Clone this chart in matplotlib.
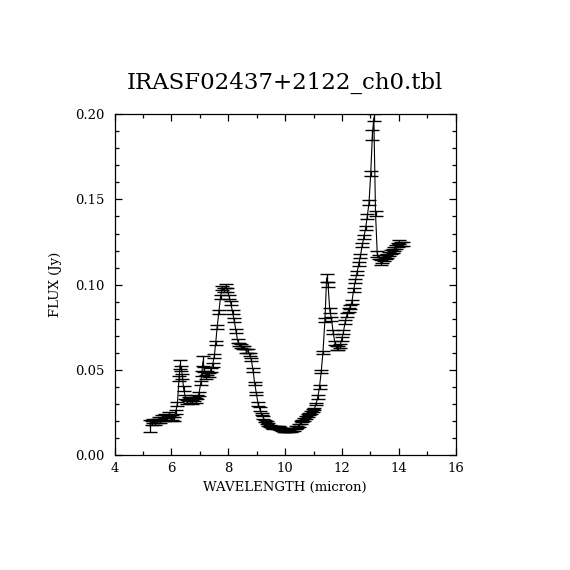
import matplotlib
matplotlib.use('Agg')
import matplotlib.pyplot as plt
from matplotlib.ticker import MultipleLocator

plt.rcParams['font.family'] = ['DejaVu Serif']

# espectro (micron, Jy)
wave = [5.25, 5.31, 5.37, 5.43, 5.49, 5.55, 5.61, 5.67, 5.73, 5.79, 5.85, 5.91,
        5.97, 6.03, 6.09, 6.15, 6.21, 6.27, 6.31, 6.35, 6.39, 6.43, 6.49, 6.55,
        6.61, 6.67, 6.73, 6.79, 6.85, 6.91, 6.97, 7.03, 7.07, 7.11, 7.15, 7.21,
        7.27, 7.33, 7.39, 7.45, 7.51, 7.56, 7.61, 7.67, 7.73, 7.79, 7.85, 7.91,
        7.97, 8.03, 8.09, 8.15, 8.21, 8.27, 8.33, 8.39, 8.45, 8.51, 8.57, 8.63,
        8.69, 8.75, 8.81, 8.87, 8.93, 8.99, 9.05, 9.11, 9.17, 9.23, 9.29, 9.35,
        9.41, 9.47, 9.53, 9.59, 9.65, 9.71, 9.77, 9.83, 9.89, 9.95, 10.01, 10.07,
        10.13, 10.19, 10.25, 10.31, 10.37, 10.43, 10.49, 10.55, 10.61, 10.67, 10.73, 10.79,
        10.85, 10.91, 10.97, 11.03, 11.09, 11.15, 11.21, 11.27, 11.33, 11.40, 11.46, 11.51,
        11.57, 11.63, 11.69, 11.75, 11.81, 11.87, 11.93, 11.99, 12.05, 12.11, 12.17, 12.23,
        12.29, 12.35, 12.41, 12.47, 12.53, 12.59, 12.65, 12.71, 12.77, 12.83, 12.89, 12.95,
        13.01, 13.07, 13.12, 13.18, 13.24, 13.30, 13.36, 13.42, 13.48, 13.54, 13.60, 13.66,
        13.72, 13.78, 13.84, 13.90, 13.96, 14.02, 14.08, 14.14]

flux = [0.017, 0.019, 0.020, 0.019, 0.020, 0.021, 0.020, 0.022, 0.021, 0.023, 0.022, 0.024,
        0.021, 0.022, 0.021, 0.025, 0.030, 0.045, 0.053, 0.051, 0.046, 0.039, 0.034, 0.031,
        0.033, 0.032, 0.031, 0.033, 0.032, 0.034, 0.036, 0.042, 0.048, 0.055, 0.050, 0.046,
        0.048, 0.047, 0.050, 0.053, 0.058, 0.066, 0.075, 0.084, 0.093, 0.098, 0.097, 0.099,
        0.097, 0.093, 0.089, 0.084, 0.079, 0.073, 0.067, 0.065, 0.064, 0.063, 0.063, 0.061,
        0.061, 0.059, 0.056, 0.050, 0.042, 0.036, 0.030, 0.027, 0.024, 0.022, 0.020, 0.019,
        0.018, 0.017, 0.0165, 0.016, 0.0165, 0.016, 0.016, 0.0155, 0.015, 0.0145, 0.014, 0.0145,
        0.014, 0.0145, 0.015, 0.015, 0.016, 0.0165, 0.0175, 0.019, 0.020, 0.021, 0.022, 0.023,
        0.024, 0.025, 0.026, 0.027, 0.030, 0.034, 0.040, 0.049, 0.060, 0.079, 0.104, 0.100,
        0.085, 0.080, 0.072, 0.066, 0.063, 0.063, 0.064, 0.068, 0.072, 0.078, 0.082, 0.085,
        0.087, 0.090, 0.097, 0.102, 0.107, 0.112, 0.117, 0.123, 0.128, 0.133, 0.140, 0.148,
        0.165, 0.188, 0.198, 0.142, 0.118, 0.116, 0.113, 0.114, 0.115, 0.116, 0.117, 0.118,
        0.119, 0.120, 0.121, 0.122, 0.123, 0.125, 0.124, 0.124]

erro = [0.0035, 0.0012, 0.0012, 0.0012, 0.0012, 0.0012, 0.0012, 0.0012, 0.0012, 0.0012, 0.0012, 0.0012,
        0.0012, 0.0012, 0.0012, 0.0012, 0.0012, 0.0015, 0.0025, 0.0015, 0.0015, 0.0012, 0.0012, 0.0012,
        0.0012, 0.0012, 0.0012, 0.0012, 0.0012, 0.0012, 0.0012, 0.0012, 0.0015, 0.0030, 0.0015, 0.0012,
        0.0012, 0.0012, 0.0012, 0.0012, 0.0012, 0.0012, 0.0012, 0.0012, 0.0012, 0.0012, 0.0012, 0.0012,
        0.0012, 0.0012, 0.0012, 0.0012, 0.0012, 0.0012, 0.0012, 0.0010, 0.0010, 0.0010, 0.0010, 0.0010,
        0.0010, 0.0010, 0.0010, 0.0010, 0.0010, 0.0010, 0.0010, 0.0010, 0.0008, 0.0008, 0.0008, 0.0008,
        0.0008, 0.0008, 0.0008, 0.0008, 0.0008, 0.0008, 0.0008, 0.0008, 0.0008, 0.0008, 0.0008, 0.0008,
        0.0008, 0.0008, 0.0008, 0.0008, 0.0008, 0.0008, 0.0008, 0.0008, 0.0008, 0.0008, 0.0008, 0.0008,
        0.0008, 0.0008, 0.0008, 0.0008, 0.0008, 0.0010, 0.0010, 0.0010, 0.0010, 0.0012, 0.0025, 0.0015,
        0.0015, 0.0012, 0.0012, 0.0012, 0.0012, 0.0012, 0.0012, 0.0012, 0.0012, 0.0012, 0.0012, 0.0012,
        0.0012, 0.0012, 0.0012, 0.0012, 0.0012, 0.0012, 0.0012, 0.0012, 0.0012, 0.0012, 0.0012, 0.0015,
        0.0015, 0.0030, 0.0020, 0.0015, 0.0015, 0.0012, 0.0012, 0.0012, 0.0012, 0.0012, 0.0012, 0.0012,
        0.0012, 0.0012, 0.0012, 0.0012, 0.0012, 0.0012, 0.0012, 0.0012]

fig = plt.figure(figsize=(5.7, 5.7), dpi=100)
ax = fig.add_axes([0.2009, 0.2018, 0.5986, 0.5977])

ax.errorbar(wave, flux, yerr=erro, color='black', linewidth=0.8,
            elinewidth=0.9, capsize=5, capthick=1.0, clip_on=True)

ax.set_xlim(4, 16)
ax.set_ylim(0, 0.2)
ax.xaxis.set_major_locator(MultipleLocator(2))
ax.xaxis.set_minor_locator(MultipleLocator(1))
ax.yaxis.set_major_locator(MultipleLocator(0.05))
ax.yaxis.set_minor_locator(MultipleLocator(0.01))
ax.yaxis.set_major_formatter(plt.FormatStrFormatter('%.2f'))
ax.tick_params(which='both', direction='in', top=True, right=True, labelsize=9.5)
ax.tick_params(which='major', length=5, width=0.9)
ax.tick_params(which='minor', length=3, width=0.9)
ax.tick_params(axis='y', pad=7)
ax.tick_params(axis='x', pad=5)
for s in ax.spines.values():
    s.set_linewidth(0.9)

ax.set_title('IRASF02437+2122_ch0.tbl', fontsize=16.5, pad=18)
ax.set_xlabel('WAVELENGTH (micron)', fontsize=9.5, labelpad=4)
ax.set_ylabel('FLUX (Jy)', fontsize=9.5, labelpad=10)

fig.savefig('out.png', dpi=100)
